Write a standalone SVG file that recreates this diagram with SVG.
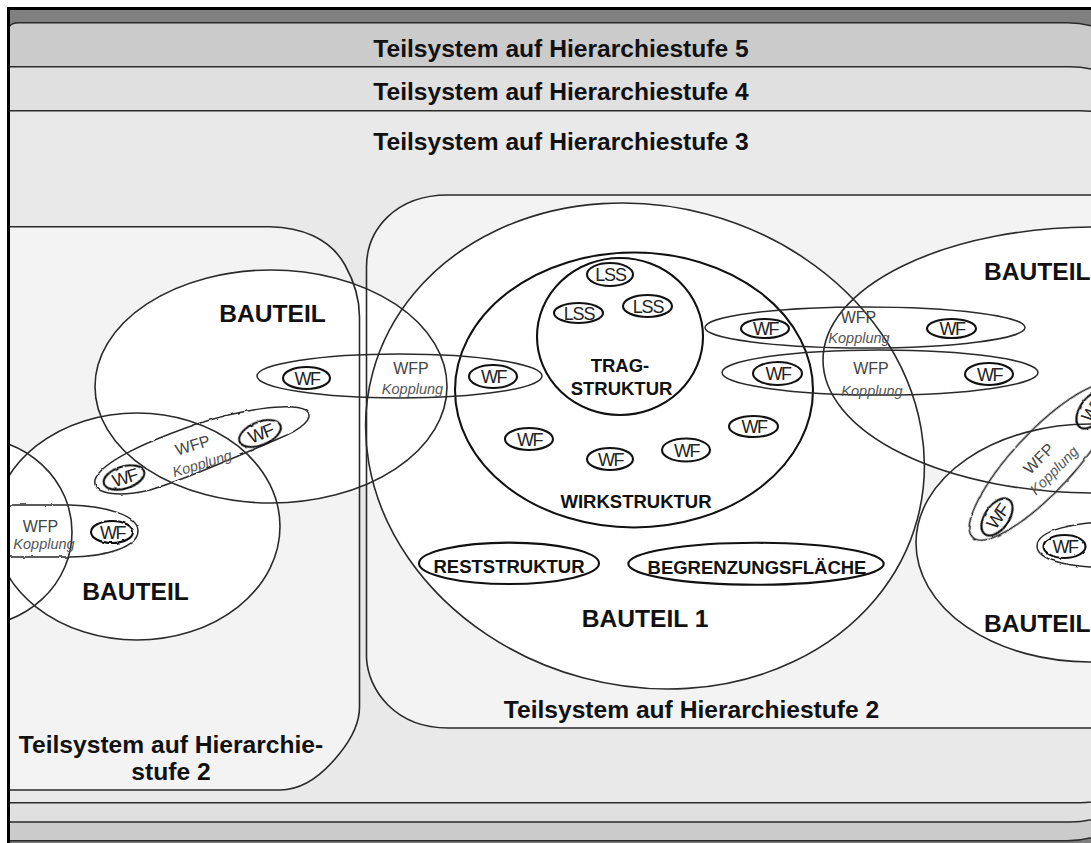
<svg xmlns="http://www.w3.org/2000/svg" xmlns:xlink="http://www.w3.org/1999/xlink" width="1091" height="843" viewBox="0 0 1091 843">
  <defs>
    <style>
      .band{stroke:#2a2a2a;stroke-width:1.4}
      .outline{fill:none;stroke:#2a2a2a;stroke-width:1.6}
      .under{fill:#fff;stroke:none}
      .strong{fill:none;stroke:#111;stroke-width:2.1}
      .wf{fill:none;stroke:#111;stroke-width:2.1}
      .cpl{fill:none;stroke:#2a2a2a;stroke-width:1.5}
      .bold{font-family:"Liberation Sans",Arial,sans-serif;font-weight:bold;fill:#111}
      .title{font-size:24.6px;text-anchor:middle}
      .bt{font-size:24.6px}
      .lbl{font-size:18.5px;text-anchor:middle}
      .wft{font-family:"Liberation Sans",Arial,sans-serif;font-size:18px;letter-spacing:-1.5px;text-anchor:middle;fill:#222}
      .wfp{font-family:"Liberation Sans",Arial,sans-serif;font-size:16px;text-anchor:middle;fill:#444}
      .kop{font-family:"Liberation Sans",Arial,sans-serif;font-size:14.5px;font-style:italic;text-anchor:middle;fill:#555}
    </style>
    <!-- hand-drawn wobble for the freehand outlines -->
    <filter id="rough" x="-20%" y="-20%" width="140%" height="140%">
      <feTurbulence type="fractalNoise" baseFrequency="0.14" numOctaves="1" seed="7" result="noise"/>
      <feDisplacementMap in="SourceGraphic" in2="noise" scale="2.6" xChannelSelector="R" yChannelSelector="G"/>
    </filter>
    <clipPath id="frame-clip">
      <rect x="8.5" y="8.5" width="1100" height="840"/>
    </clipPath>
    <!-- component outlines, shared by the white underlay and the stroked node -->
    <ellipse id="g-bt-ul" cx="271" cy="386.5" rx="176" ry="116.5"/>
    <ellipse id="g-bt-ll" cx="137" cy="526.5" rx="143" ry="113.5"/>
    <ellipse id="g-bt-lm" cx="-30" cy="532" rx="102" ry="95"/>
    <ellipse id="g-bt-1" cx="645" cy="446" rx="282" ry="240" transform="rotate(15 645 446)"/>
    <ellipse id="g-bt-ur" cx="1095" cy="360" rx="272" ry="133"/>
    <ellipse id="g-bt-lr" cx="1090" cy="543" rx="174" ry="119"/>
    <path id="g-ss-left" d="M -10,226.7 H 270 C 300,227 330,238 345,265 C 355,283 359.5,300 359.5,317 V 707 C 359.5,722 352,738 340,753 C 325,772 305,790 280,790 H -10 Z"/>
    <path id="g-ss-right" d="M 1200,195 H 448 C 395,195 366.5,230 366.5,267 V 658 C 368,690 395,728 448,728 H 1200 Z"/>
  </defs>

  <rect x="0" y="0" width="1091" height="843" fill="#fff"/>

  <g clip-path="url(#frame-clip)">
    <!-- outer frame background -->
    <rect x="8" y="8" width="1100" height="840" fill="#808080"/>

    <!-- nested hierarchy levels -->
    <g id="level-5">
      <path class="band" fill="#cbcbcb" d="M 9,27 Q 11,22.7 19,22.7 H 1067 A 96 96 0 0 1 1163,118.7 V 744.7 A 96 96 0 0 1 1067,840.7 H 9 Z"/>
      <text class="bold title" x="561" y="57">Teilsystem auf Hierarchiestufe 5</text>
    </g>
    <g id="level-4">
      <path class="band" fill="#e0e0e0" d="M 8,66.7 H 1070 A 96 96 0 0 1 1166,162.7 V 726 A 96 96 0 0 1 1070,822 H 8 Z"/>
      <text class="bold title" x="561" y="100">Teilsystem auf Hierarchiestufe 4</text>
    </g>
    <g id="level-3">
      <path class="band" fill="#e9e9e9" d="M 8,110.7 H 1080 A 96 96 0 0 1 1176,206.7 V 706.7 A 96 96 0 0 1 1080,802.7 H 8 Z"/>
      <text class="bold title" x="561" y="150">Teilsystem auf Hierarchiestufe 3</text>
    </g>

    <!-- level-2 subsystem areas -->
    <use xlink:href="#g-ss-left" fill="#f3f3f3"/>
    <use xlink:href="#g-ss-right" fill="#f3f3f3"/>

    <!-- white interiors of the components -->
    <g id="component-fills">
      <use xlink:href="#g-bt-ul" class="under"/>
      <use xlink:href="#g-bt-ll" class="under"/>
      <use xlink:href="#g-bt-lm" class="under"/>
      <use xlink:href="#g-bt-1" class="under"/>
      <use xlink:href="#g-bt-ur" class="under"/>
      <use xlink:href="#g-bt-lr" class="under"/>
    </g>

    <g id="subsystem-left">
      <use xlink:href="#g-ss-left" class="outline"/>
      <text class="bold title" x="171" y="753">Teilsystem auf Hierarchie-</text>
      <text class="bold title" x="171" y="780">stufe 2</text>
    </g>
    <g id="subsystem-right">
      <use xlink:href="#g-ss-right" class="outline"/>
      <text class="bold title" x="691.5" y="718">Teilsystem auf Hierarchiestufe 2</text>
    </g>

    <g id="bauteil-upper-left">
      <use xlink:href="#g-bt-ul" class="outline"/>
      <text class="bold bt" x="272.5" y="322" text-anchor="middle">BAUTEIL</text>
    </g>
    <g id="bauteil-lower-left">
      <use xlink:href="#g-bt-ll" class="outline"/>
      <text class="bold bt" x="135.5" y="600" text-anchor="middle">BAUTEIL</text>
    </g>
    <g id="bauteil-far-left">
      <use xlink:href="#g-bt-lm" class="outline"/>
    </g>
    <g id="bauteil-upper-right">
      <use xlink:href="#g-bt-ur" class="outline"/>
      <text class="bold bt" x="984" y="280">BAUTEIL</text>
    </g>
    <g id="bauteil-lower-right">
      <use xlink:href="#g-bt-lr" class="outline"/>
      <text class="bold bt" x="984" y="632">BAUTEIL</text>
    </g>

    <g id="bauteil-1">
      <use xlink:href="#g-bt-1" class="outline"/>
      <text class="bold bt" x="645" y="627" text-anchor="middle">BAUTEIL 1</text>
    </g>
    <g id="wirkstruktur">
      <ellipse class="strong" cx="634" cy="390" rx="179" ry="137.5"/>
      <text class="bold lbl" x="636" y="508">WIRKSTRUKTUR</text>
    </g>
    <g id="tragstruktur">
      <ellipse class="strong" cx="620" cy="336.5" rx="83" ry="78.5"/>
      <text class="bold lbl" x="620" y="372">TRAG-</text>
      <text class="bold lbl" x="621.5" y="395">STRUKTUR</text>
    </g>
    <g id="reststruktur">
      <ellipse class="strong" cx="509" cy="563.3" rx="90" ry="20.7"/>
      <text class="bold lbl" x="509" y="573">RESTSTRUKTUR</text>
    </g>
    <g id="begrenzungsflaeche">
      <ellipse class="strong" cx="756" cy="563.8" rx="127.7" ry="21"/>
      <text class="bold lbl" x="757" y="573.5">BEGRENZUNGSFLÄCHE</text>
    </g>

    <!-- load-carrying substructures -->
    <g id="lss-1"><ellipse class="wf" cx="610" cy="274.5" rx="23" ry="11.5"/><text class="wft" x="610.5" y="281" style="letter-spacing:-1.2px">LSS</text></g>
    <g id="lss-2"><ellipse class="wf" cx="578.5" cy="313" rx="24.5" ry="10"/><text class="wft" x="579" y="319.5" style="letter-spacing:-1.2px">LSS</text></g>
    <g id="lss-3"><ellipse class="wf" cx="647.5" cy="306" rx="24.5" ry="11"/><text class="wft" x="648" y="312.5" style="letter-spacing:-1.2px">LSS</text></g>

    <!-- couplings between working surface pairs -->
    <g id="connectors">
      <g id="coupling-far-left">
        <path class="cpl" filter="url(#rough)" d="M -5,505 H 70 C 105,506 138,515 138,531 C 138,547 105,557 70,557 H -5"/>
        <text class="wfp" x="40.5" y="531.7">WFP</text>
        <text class="kop" x="44" y="548.7">Kopplung</text>
      </g>
      <g id="coupling-left-diagonal">
        <path class="cpl" filter="url(#rough)" d="M 95,480 C 100,462 150,440 200,423 C 240,410 290,402 306,410 C 316,418 300,430 280,438 C 240,455 190,478 150,490 C 120,497 92,495 95,480 Z"/>
        <g transform="translate(192.5,445) rotate(-17)">
          <text class="wfp" x="0" y="5.8">WFP</text>
          <text class="kop" x="3.7" y="25.6">Kopplung</text>
        </g>
      </g>
      <g id="coupling-center-left">
        <ellipse class="cpl" cx="399.5" cy="376" rx="142.5" ry="22"/>
        <text class="wfp" x="411" y="374">WFP</text>
        <text class="kop" x="412.5" y="394">Kopplung</text>
      </g>
      <g id="coupling-right-upper">
        <ellipse class="cpl" cx="865" cy="327.5" rx="160" ry="20.5"/>
        <text class="wfp" x="858.5" y="323">WFP</text>
        <text class="kop" x="859" y="343">Kopplung</text>
      </g>
      <g id="coupling-right-lower">
        <ellipse class="cpl" cx="880" cy="372.5" rx="158" ry="22.5"/>
        <text class="wfp" x="871" y="374">WFP</text>
        <text class="kop" x="872" y="395.5">Kopplung</text>
      </g>
      <g id="coupling-right-diagonal">
        <ellipse class="cpl" filter="url(#rough)" cx="1043" cy="462" rx="103" ry="30" transform="rotate(-47 1043 462)"/>
        <g transform="translate(1038.5,458.5) rotate(-45)">
          <text class="wfp" x="0" y="5.8">WFP</text>
          <text class="kop" x="2.5" y="24.5">Kopplung</text>
        </g>
      </g>
      <g id="coupling-far-right">
        <path class="cpl" filter="url(#rough)" d="M 1120,521 C 1075,522 1037,530 1037,546 C 1037,562 1075,568 1120,568"/>
      </g>
    </g>

    <!-- working surfaces -->
    <g id="wf-1"><ellipse class="wf" cx="306.5" cy="378" rx="23.5" ry="11"/><text class="wft" x="307" y="384.5">WF</text></g>
    <g id="wf-2"><ellipse class="wf" cx="493" cy="376.5" rx="24" ry="11.5"/><text class="wft" x="493.5" y="383">WF</text></g>
    <g id="wf-3"><ellipse class="wf" cx="529" cy="439" rx="24" ry="11"/><text class="wft" x="529.5" y="445.5">WF</text></g>
    <g id="wf-4"><ellipse class="wf" cx="610" cy="459" rx="23" ry="11"/><text class="wft" x="610.5" y="465.5">WF</text></g>
    <g id="wf-5"><ellipse class="wf" cx="686" cy="450" rx="24" ry="11.5"/><text class="wft" x="686.5" y="456.5">WF</text></g>
    <g id="wf-6"><ellipse class="wf" cx="753.5" cy="426.5" rx="24.5" ry="10.5"/><text class="wft" x="754" y="433">WF</text></g>
    <g id="wf-7"><ellipse class="wf" cx="765" cy="328.5" rx="24" ry="9.5"/><text class="wft" x="765.5" y="335">WF</text></g>
    <g id="wf-8"><ellipse class="wf" cx="951.5" cy="328.5" rx="24.5" ry="9.5"/><text class="wft" x="952" y="335">WF</text></g>
    <g id="wf-9"><ellipse class="wf" cx="777.5" cy="373.5" rx="24.5" ry="11.5"/><text class="wft" x="778" y="380">WF</text></g>
    <g id="wf-10"><ellipse class="wf" cx="989" cy="374" rx="24" ry="11"/><text class="wft" x="989.5" y="380.5">WF</text></g>
    <g id="wf-11"><ellipse class="wf" filter="url(#rough)" cx="112" cy="532" rx="21" ry="11"/><text class="wft" x="112.5" y="538.5">WF</text></g>
    <g id="wf-12" transform="translate(124,477.5) rotate(-17)"><ellipse class="wf" filter="url(#rough)" cx="0" cy="0" rx="21" ry="11"/><text class="wft" x="0.5" y="6.5">WF</text></g>
    <g id="wf-13" transform="translate(260,433.5) rotate(-22)"><ellipse class="wf" filter="url(#rough)" cx="0" cy="0" rx="22" ry="11.5"/><text class="wft" x="0.5" y="6.5">WF</text></g>
    <g id="wf-14" transform="translate(997,517) rotate(-55)"><ellipse class="wf" filter="url(#rough)" cx="0" cy="0" rx="21" ry="12"/><text class="wft" x="0.5" y="6.5">WF</text></g>
    <g id="wf-15" transform="translate(1092,410) rotate(-55)"><ellipse class="wf" filter="url(#rough)" cx="0" cy="0" rx="21" ry="12"/><text class="wft" x="0.5" y="6.5">WF</text></g>
    <g id="wf-16"><ellipse class="wf" filter="url(#rough)" cx="1064.5" cy="546.5" rx="21" ry="11.5"/><text class="wft" x="1065" y="553">WF</text></g>
  </g>

  <!-- black frame -->
  <path d="M 8.5,850 V 8.5 H 1100" fill="none" stroke="#000" stroke-width="3"/>
</svg>
